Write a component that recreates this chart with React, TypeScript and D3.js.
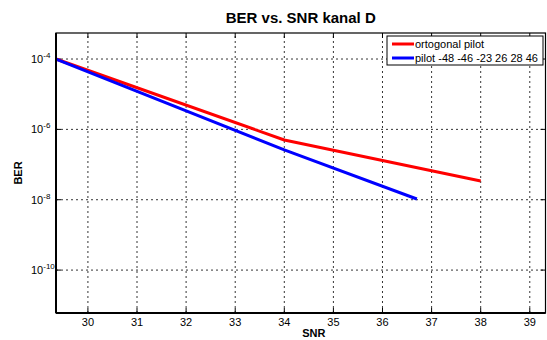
import React from "react";
import * as d3 from "d3";

// data
const snrOrto = [29.35, 34, 38];
const berOrto = [1e-4, 5e-7, 3.4e-8];
const snrPilot = [29.35, 34, 36.7];
const berPilot = [1e-4, 2.6e-7, 1.05e-8];

const xTicks = [30, 31, 32, 33, 34, 35, 36, 37, 38, 39];
const yTickExp = [-4, -6, -8, -10];
const legendLabels = ["ortogonal pilot", "pilot -48 -46 -23 26 28 46"];
const colors = ["#ff0000", "#0000ff"];

const W = 547;
const H = 340;
const margin = { top: 33, right: 1.5, bottom: 27, left: 56 };
const font = "'Liberation Sans', Arial, sans-serif";

const App = () => {
  const x = d3
    .scaleLinear()
    .domain([29.35, 39.32])
    .range([margin.left, W - margin.right]);
  const y = d3
    .scaleLog()
    .domain([Math.pow(10, -11.22), Math.pow(10, -3.26)])
    .range([H - margin.bottom, margin.top]);

  const line = d3
    .line<[number, number]>()
    .x((d) => x(d[0]))
    .y((d) => y(d[1]));

  const series = [
    snrOrto.map((s, i) => [s, berOrto[i]] as [number, number]),
    snrPilot.map((s, i) => [s, berPilot[i]] as [number, number]),
  ];

  const [x0, x1] = x.range();
  const [y0, y1] = y.range(); // y0 bottom, y1 top

  return (
    <svg
      width={W}
      height={H}
      style={{ position: "absolute", left: 0, top: 0, background: "#fff" }}
      fontFamily={font}
    >
      <rect x={0} y={0} width={W} height={H} fill="#fff" />

      {/* grid */}
      {xTicks.map((t) => (
        <line
          key={"gx" + t}
          x1={x(t)}
          x2={x(t)}
          y1={y0}
          y2={y1}
          stroke="#000"
          strokeWidth={0.8}
          strokeDasharray="2,3"
        />
      ))}
      {yTickExp.map((e) => (
        <line
          key={"gy" + e}
          x1={x0}
          x2={x1}
          y1={y(Math.pow(10, e))}
          y2={y(Math.pow(10, e))}
          stroke="#000"
          strokeWidth={0.8}
          strokeDasharray="2,3"
        />
      ))}

      {/* tick marks */}
      {xTicks.map((t) => (
        <g key={"tx" + t}>
          <line x1={x(t)} x2={x(t)} y1={y0} y2={y0 - 5} stroke="#000" />
          <line x1={x(t)} x2={x(t)} y1={y1} y2={y1 + 5} stroke="#000" />
        </g>
      ))}
      {yTickExp.map((e) => (
        <g key={"ty" + e}>
          <line x1={x0} x2={x0 + 5} y1={y(Math.pow(10, e))} y2={y(Math.pow(10, e))} stroke="#000" />
          <line x1={x1} x2={x1 - 5} y1={y(Math.pow(10, e))} y2={y(Math.pow(10, e))} stroke="#000" />
        </g>
      ))}

      {/* data lines */}
      {series.map((s, i) => (
        <path
          key={"s" + i}
          d={line(s) || ""}
          fill="none"
          stroke={colors[i]}
          strokeWidth={3}
          strokeLinejoin="round"
        />
      ))}

      {/* box */}
      <rect
        x={x0}
        y={y1}
        width={x1 - x0}
        height={y0 - y1}
        fill="none"
        stroke="#000"
        strokeWidth={1.2}
      />
      <line x1={x0} x2={x1} y1={y0} y2={y0} stroke="#000" strokeWidth={2} />
      <line x1={x0} x2={x0} y1={y0} y2={y1} stroke="#000" strokeWidth={2} />

      {/* x tick labels */}
      {xTicks.map((t) => (
        <text key={"lx" + t} x={x(t)} y={y0 + 13} fontSize={11} textAnchor="middle" fill="#000">
          {t}
        </text>
      ))}
      {/* y tick labels */}
      {yTickExp.map((e) => (
        <text key={"ly" + e} x={31} y={y(Math.pow(10, e)) + 4} fontSize={11} fill="#000">
          10
          <tspan dy={-5} fontSize={8}>
            {e}
          </tspan>
        </text>
      ))}

      {/* titles */}
      <text x={(x0 + x1) / 2} y={23} fontSize={15} fontWeight="bold" textAnchor="middle" fill="#000">
        BER vs. SNR kanal D
      </text>
      <text x={x(34.6)} y={337} fontSize={11} fontWeight="bold" textAnchor="middle" fill="#000">
        SNR
      </text>
      <text
        transform={`translate(22,${(y0 + y1) / 2}) rotate(-90)`}
        fontSize={11}
        fontWeight="bold"
        textAnchor="middle"
        fill="#000"
      >
        BER
      </text>

      {/* legend */}
      <g>
        <rect x={387} y={36} width={156} height={29} fill="#fff" stroke="#000" strokeWidth={1} />
        {legendLabels.map((l, i) => (
          <g key={"lg" + i}>
            <line x1={392} x2={414} y1={44 + i * 14} y2={44 + i * 14} stroke={colors[i]} strokeWidth={3} />
            <text x={415} y={48 + i * 14} fontSize={11} fill="#000">
              {l}
            </text>
          </g>
        ))}
      </g>
    </svg>
  );
};

export default App;
